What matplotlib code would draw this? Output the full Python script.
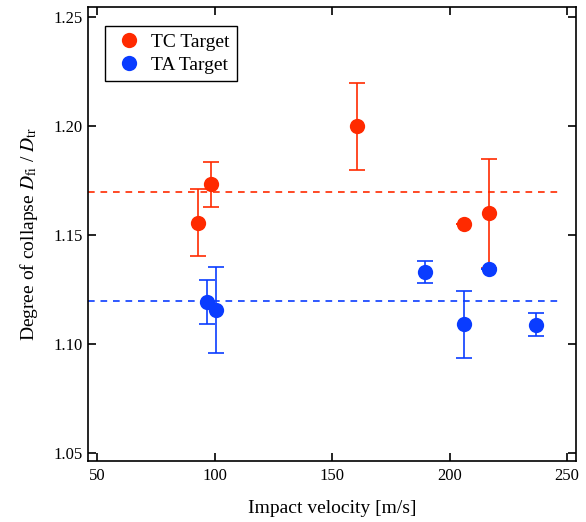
import numpy as np
import matplotlib
matplotlib.use('Agg')
from matplotlib import pyplot as plt

plt.rcParams['font.family'] = ['Liberation Serif', 'DejaVu Serif']
plt.rcParams['mathtext.fontset'] = 'stix'

# TC target
tc_v = [93.0, 98.6, 160.5, 206.1, 216.9]
tc_d = [1.1556, 1.1733, 1.2000, 1.1550, 1.1602]
tc_lo = [1.1404, 1.1630, 1.1798, 1.1550, 1.1350]
tc_hi = [1.1712, 1.1835, 1.2196, 1.1550, 1.1850]
tc_mean = 1.17

# TA target
ta_v = [96.7, 100.7, 189.7, 206.1, 216.9, 236.9]
ta_d = [1.1193, 1.1156, 1.1330, 1.1092, 1.1344, 1.1090]
ta_lo = [1.1092, 1.0960, 1.1281, 1.0937, 1.1344, 1.1038]
ta_hi = [1.1294, 1.1355, 1.1380, 1.1243, 1.1344, 1.1144]
ta_mean = 1.12

xticks = [50, 100, 150, 200, 250]
yticks = [1.05, 1.10, 1.15, 1.20, 1.25]

red = '#ff2a00'
blue = '#0a3cff'

fig = plt.figure(figsize=(5.86, 5.22), dpi=100)
ax = fig.add_axes([0.150, 0.1163, 0.833, 0.870])

ax.hlines(tc_mean, 46, 248, colors=red, linestyles=(0, (4, 3.5)), lw=1.2)
ax.hlines(ta_mean, 46, 248, colors=blue, linestyles=(0, (4, 3.5)), lw=1.2)

def series(v, d, lo, hi, c, lab):
    d = np.array(d)
    err = [d - np.array(lo), np.array(hi) - d]
    ax.errorbar(v, d, yerr=err, fmt='none', ecolor=c, elinewidth=1.4,
                capsize=5.5, capthick=1.4, alpha=0.85)
    ax.plot(v, d, 'o', color=c, ms=11, mec='none', label=lab)

series(tc_v, tc_d, tc_lo, tc_hi, red, 'TC Target')
series(ta_v, ta_d, ta_lo, ta_hi, blue, 'TA Target')

ax.set_xlim(46, 253.8)
ax.set_ylim(1.0463, 1.2546)
ax.set_xticks(xticks)
ax.set_yticks(yticks)
ax.set_yticklabels(['%.2f' % t for t in yticks])
ax.tick_params(direction='in', top=True, right=True, length=6, width=1.2,
               labelsize=12)
ax.tick_params(axis='x', pad=5)
ax.tick_params(axis='y', pad=3.5)
for s in ax.spines.values():
    s.set_linewidth(1.2)

ax.set_xlabel('Impact velocity [m/s]', fontsize=14, labelpad=11)
ax.set_ylabel(r'Degree of collapse $D_{\rm fi}$ / $D_{\rm tr}$', fontsize=14, labelpad=10)

leg = ax.legend(loc='upper left', bbox_to_anchor=(0.035, 0.959), fontsize=14,
                fancybox=False, edgecolor='black', framealpha=1,
                handletextpad=0.25, borderpad=0.4, labelspacing=0.25,
                handlelength=1.7, borderaxespad=0)
leg.get_frame().set_linewidth(1.0)

fig.savefig('out.png', dpi=100)
